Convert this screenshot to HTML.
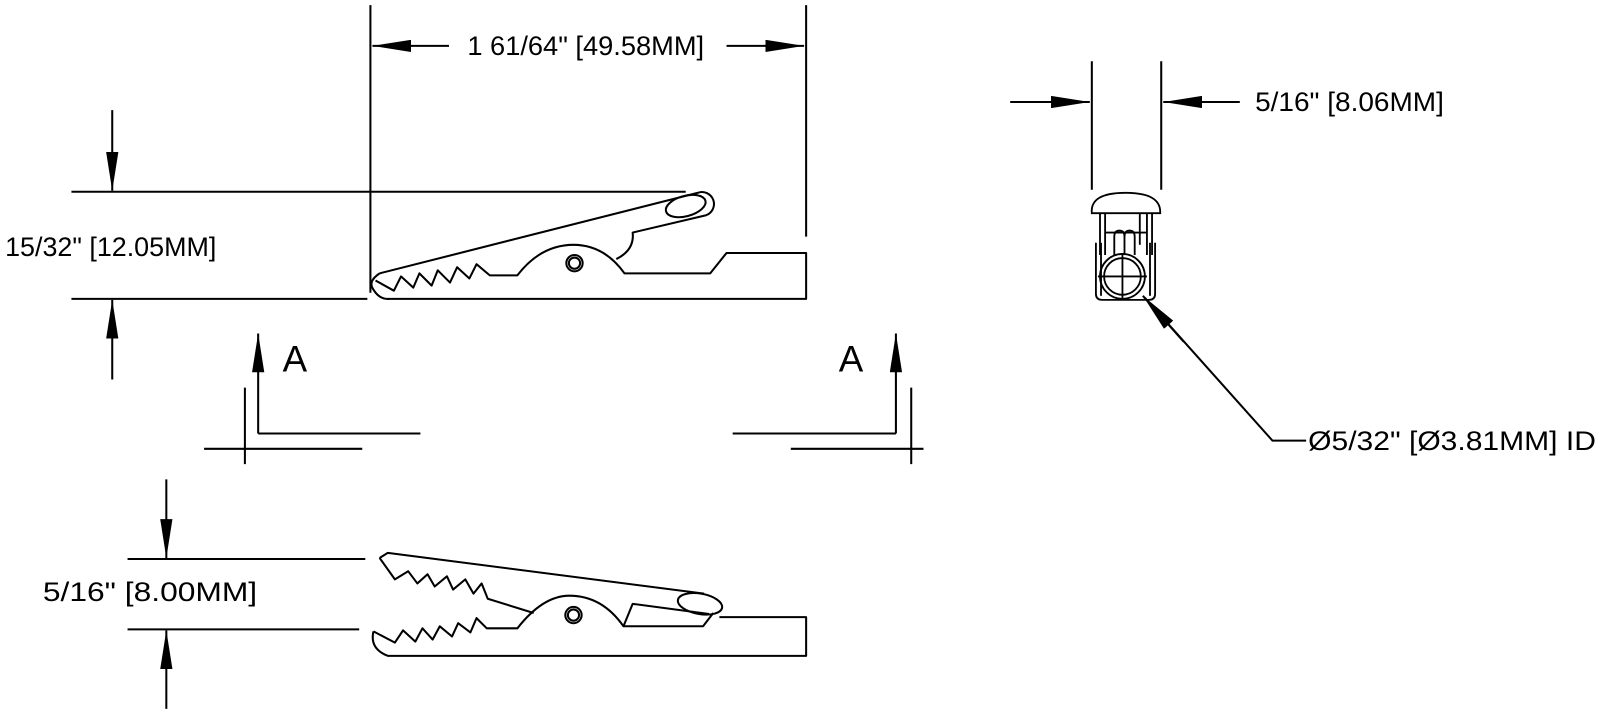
<!DOCTYPE html>
<html><head><meta charset="utf-8"><style>
html,body{margin:0;padding:0;background:#fff;}
svg{display:block;}
text{font-family:"Liberation Sans",Arial,sans-serif;fill:#000;}
</style></head><body>
<svg width="1600" height="714" viewBox="0 0 1568 700" preserveAspectRatio="none" xmlns="http://www.w3.org/2000/svg">
<defs>
<marker id="ah" viewBox="0 0 38 12" refX="38" refY="6" markerWidth="38" markerHeight="12" markerUnits="userSpaceOnUse" orient="auto">
<path d="M0,0 L38,6 L0,12 Z" fill="#000"/>
</marker>
</defs>
<g stroke="#000" stroke-width="2" fill="none">
<line x1="363" y1="5" x2="363" y2="287"/>
<line x1="790" y1="5" x2="790" y2="232"/>
<line x1="440" y1="45" x2="365" y2="45" marker-end="url(#ah)"/>
<line x1="712" y1="45" x2="788" y2="45" marker-end="url(#ah)"/>
<line x1="70" y1="188" x2="672" y2="188"/>
<line x1="70" y1="293" x2="360" y2="293"/>
<line x1="110" y1="108" x2="110" y2="187" marker-end="url(#ah)"/>
<line x1="110" y1="372" x2="110" y2="294" marker-end="url(#ah)"/>
<line x1="253" y1="425" x2="253" y2="327" marker-end="url(#ah)"/>
<line x1="253" y1="425" x2="412" y2="425"/>
<line x1="240" y1="380" x2="240" y2="455"/>
<line x1="200" y1="440" x2="355" y2="440"/>
<line x1="878" y1="425" x2="878" y2="327" marker-end="url(#ah)"/>
<line x1="718" y1="425" x2="878" y2="425"/>
<line x1="893" y1="380" x2="893" y2="455"/>
<line x1="775" y1="440" x2="905" y2="440"/>
<line x1="125" y1="548" x2="358" y2="548"/>
<line x1="125" y1="617" x2="352" y2="617"/>
<line x1="163" y1="470" x2="163" y2="547" marker-end="url(#ah)"/>
<line x1="163" y1="695" x2="163" y2="618" marker-end="url(#ah)"/>
<line x1="1070" y1="60" x2="1070" y2="186"/>
<line x1="1138" y1="60" x2="1138" y2="186"/>
<line x1="990" y1="100" x2="1068" y2="100" marker-end="url(#ah)"/>
<line x1="1215" y1="100" x2="1140" y2="100" marker-end="url(#ah)"/>
<polyline points="1280,432 1247,432 1122,292"/>
<line x1="1160" y1="335" x2="1120" y2="290" marker-end="url(#ah)"/>
</g>

<g stroke="#000" stroke-width="2" fill="none" stroke-linejoin="round">
<path d="M372,268 L684,189 A11,11 0 0 1 692,211 L620,228 Q622,245 604,254"/>
<path d="M372,268 Q360,276 366,284 Q372,294 382,293 L790,293 L790,248 L712,248 L696,268 L612,268 Q592,240 562,240 Q530,240 507,270 L480,270 L467,259 L460,273 L448,262 L441,277 L429,265 L423,280 L411,268 L405,282 L393,271 L386,285 L368,275"/>
<ellipse cx="672" cy="202" rx="20" ry="10" transform="rotate(-15 672 202)"/>
<circle cx="563" cy="258" r="8"/>
<circle cx="563" cy="258" r="5.5"/>
</g>

<g stroke="#000" stroke-width="2" fill="none" stroke-linejoin="round">
<path d="M372,547 L380,542 L690,582"/>
<path d="M372,547 L387,568 L400,560 L409,572 L419,563 L426,575 L438,565 L444,578 L456,568 L464,582 L472,572 L478,587 L523,601"/>
<path d="M366,619 Q362,636 380,643 L790,643 L790,605 L705,605"/>
<path d="M366,619 L387,630 L395,618 L407,629 L414,616 L424,627 L431,614 L443,624 L449,611 L461,620 L467,606 L477,616 L507,616 Q532,584 558,584 Q590,584 611,614 L689,614 L699,601"/>
<path d="M611,614 L620,592 L695,602"/>
<ellipse cx="686" cy="592" rx="22" ry="10" transform="rotate(10 686 592)"/>
<circle cx="562" cy="603" r="8"/>
<circle cx="562" cy="603" r="5.5"/>
</g>

<g stroke="#000" stroke-width="1.8" fill="none">
<path d="M1070,209 Q1068,189 1103,189 Q1138,189 1137,209 Z"/>
<line x1="1078" y1="209" x2="1078" y2="250"/>
<line x1="1083" y1="209" x2="1083" y2="250"/>
<line x1="1124" y1="209" x2="1124" y2="250"/>
<line x1="1129" y1="209" x2="1129" y2="250"/>
<line x1="1117" y1="209" x2="1117" y2="240"/>
<path d="M1092,250 L1092,232 Q1092,226 1097,226 Q1102,226 1102,232 L1102,250"/>
<path d="M1102,232 Q1102,226 1107,226 Q1112,226 1112,232 L1112,250"/>
<line x1="1083" y1="228" x2="1124" y2="228"/>
<path d="M1074,238 L1074,288 Q1074,294 1080,294 L1126,294 Q1132,294 1132,288 L1132,238"/>
<line x1="1079" y1="238" x2="1079" y2="290"/>
<line x1="1127" y1="238" x2="1127" y2="290"/>
<circle cx="1100" cy="271" r="22"/>
<circle cx="1100" cy="271" r="18"/>
<line x1="1076" y1="271" x2="1124" y2="271"/>
<line x1="1100" y1="249" x2="1100" y2="293"/>
</g>

<text x="458" y="54" font-size="26.5" textLength="232" lengthAdjust="spacingAndGlyphs">1 61/64" [49.58MM]</text>
<text x="5" y="251" font-size="26.5" textLength="207" lengthAdjust="spacingAndGlyphs">15/32" [12.05MM]</text>
<text x="42" y="589" font-size="26.5" textLength="210" lengthAdjust="spacingAndGlyphs">5/16" [8.00MM]</text>
<text x="1230" y="109" font-size="26.5" textLength="185" lengthAdjust="spacingAndGlyphs">5/16" [8.06MM]</text>
<text x="1282" y="441" font-size="26.5" textLength="282" lengthAdjust="spacingAndGlyphs">Ø5/32" [Ø3.81MM] ID</text>
<text x="277" y="364" font-size="36">A</text>
<text x="822" y="364" font-size="36">A</text>
</svg>
</body></html>
